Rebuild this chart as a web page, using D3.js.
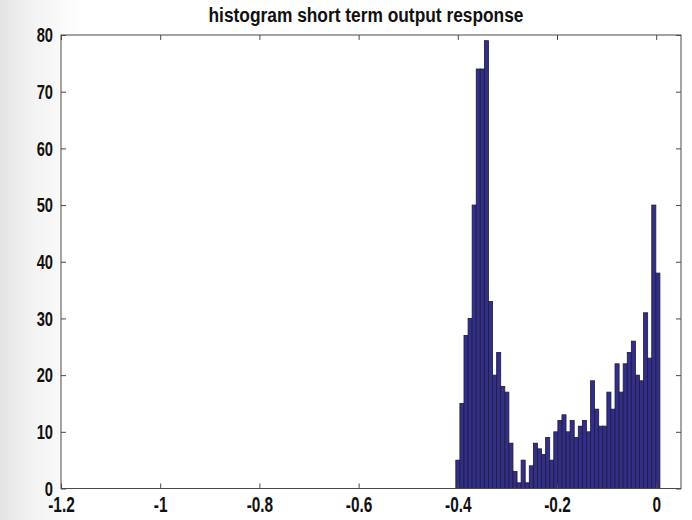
<!DOCTYPE html>
<html><head><meta charset="utf-8">
<script src="https://cdn.jsdelivr.net/npm/d3@7"></script>
<style>html,body{margin:0;padding:0;background:#fff;}svg{display:block}</style>
</head><body>
<script>
// Histogram counts (50 bins)
const counts = [5,15,27,30,50,74,74,79,33,20,24,18,17,8,3,1,5,1,4,8,7,6,9,5,10,12,13,10,12,9,11,12,10,19,14,11,11,17,14,22,17,22,24,26,20,19,31,23,50,38];
const binStart = -0.404;
const binWidth = 0.00823;
const xTicks = [-1.2,-1,-0.8,-0.6,-0.4,-0.2,0];
const xTickLabels = ["-1.2","-1","-0.8","-0.6","-0.4","-0.2","0"];
const yTicks = [0,10,20,30,40,50,60,70,80];
const yTickLabels = ["0","10","20","30","40","50","60","70","80"];
const xDomain = [-1.2,0.05];
const yDomain = [0,80];
const title = "histogram short term output response";

const W=692,H=520;
const L=61,R=681,T=35,B=488.5;
const FONT = "'Liberation Sans', Arial, sans-serif";
const SX = 0.7;

const svg = d3.select("body").append("svg").attr("width",W).attr("height",H);
const defs = svg.append("defs");
const g1 = defs.append("linearGradient").attr("id","bg").attr("x1",0).attr("x2",1).attr("y1",0).attr("y2",0);
g1.append("stop").attr("offset","0%").attr("stop-color","#e4e4e4");
g1.append("stop").attr("offset","5%").attr("stop-color","#f3f3f3");
g1.append("stop").attr("offset","12%").attr("stop-color","#ffffff");
svg.append("rect").attr("width",W).attr("height",H).attr("fill","url(#bg)");
svg.append("rect").attr("x",L).attr("y",T).attr("width",R-L).attr("height",B-T).attr("fill","#fff");

const x = d3.scaleLinear().domain(xDomain).range([L,R]);
const y = d3.scaleLinear().domain(yDomain).range([B,T]);

svg.append("g").selectAll("rect").data(counts).join("rect")
  .attr("x",(d,i)=>x(binStart+i*binWidth))
  .attr("width",(d,i)=>x(binStart+(i+1)*binWidth)-x(binStart+i*binWidth))
  .attr("y",d=>y(d)).attr("height",d=>B-y(d))
  .attr("fill","#332e86").attr("stroke","#1d1b40").attr("stroke-width",0.8);

const axisColor = "#4a4a4a";
function styleAxis(g){
  g.select(".domain").remove();
  g.selectAll(".tick line").attr("stroke",axisColor);
  g.selectAll("text").attr("fill","#111").style("font-family",FONT).style("font-size","22px").style("font-weight","bold");
}
// bottom
const gb = svg.append("g").attr("transform",`translate(0,${B})`)
  .call(d3.axisBottom(x).tickValues(xTicks).tickFormat((d,i)=>xTickLabels[i]).tickSize(-5).tickPadding(8));
styleAxis(gb);
gb.selectAll("text").attr("transform",`scale(${SX},1)`);
// top
const gt = svg.append("g").attr("transform",`translate(0,${T})`)
  .call(d3.axisTop(x).tickValues(xTicks).tickFormat("").tickSize(-5));
styleAxis(gt);
// left
const gl = svg.append("g").attr("transform",`translate(${L},0)`)
  .call(d3.axisLeft(y).tickValues(yTicks).tickFormat((d,i)=>yTickLabels[i]).tickSize(-5).tickPadding(8));
styleAxis(gl);
gl.selectAll("text").style("font-size","21px").attr("x",-8/SX).attr("transform",`scale(${SX},1)`);
// right
const gr = svg.append("g").attr("transform",`translate(${R},0)`)
  .call(d3.axisRight(y).tickValues(yTicks).tickFormat("").tickSize(-5));
styleAxis(gr);

// frame
svg.append("rect").attr("x",L).attr("y",T).attr("width",R-L).attr("height",B-T)
  .attr("fill","none").attr("stroke",axisColor).attr("stroke-width",1);

// title
svg.append("text").attr("x",(L+R)/2-5).attr("y",22).attr("text-anchor","middle")
  .style("font-family",FONT).style("font-size","20px").style("font-weight","bold").attr("fill","#111")
  .attr("textLength",315).attr("lengthAdjust","spacingAndGlyphs")
  .text(title);
</script>
</body></html>
